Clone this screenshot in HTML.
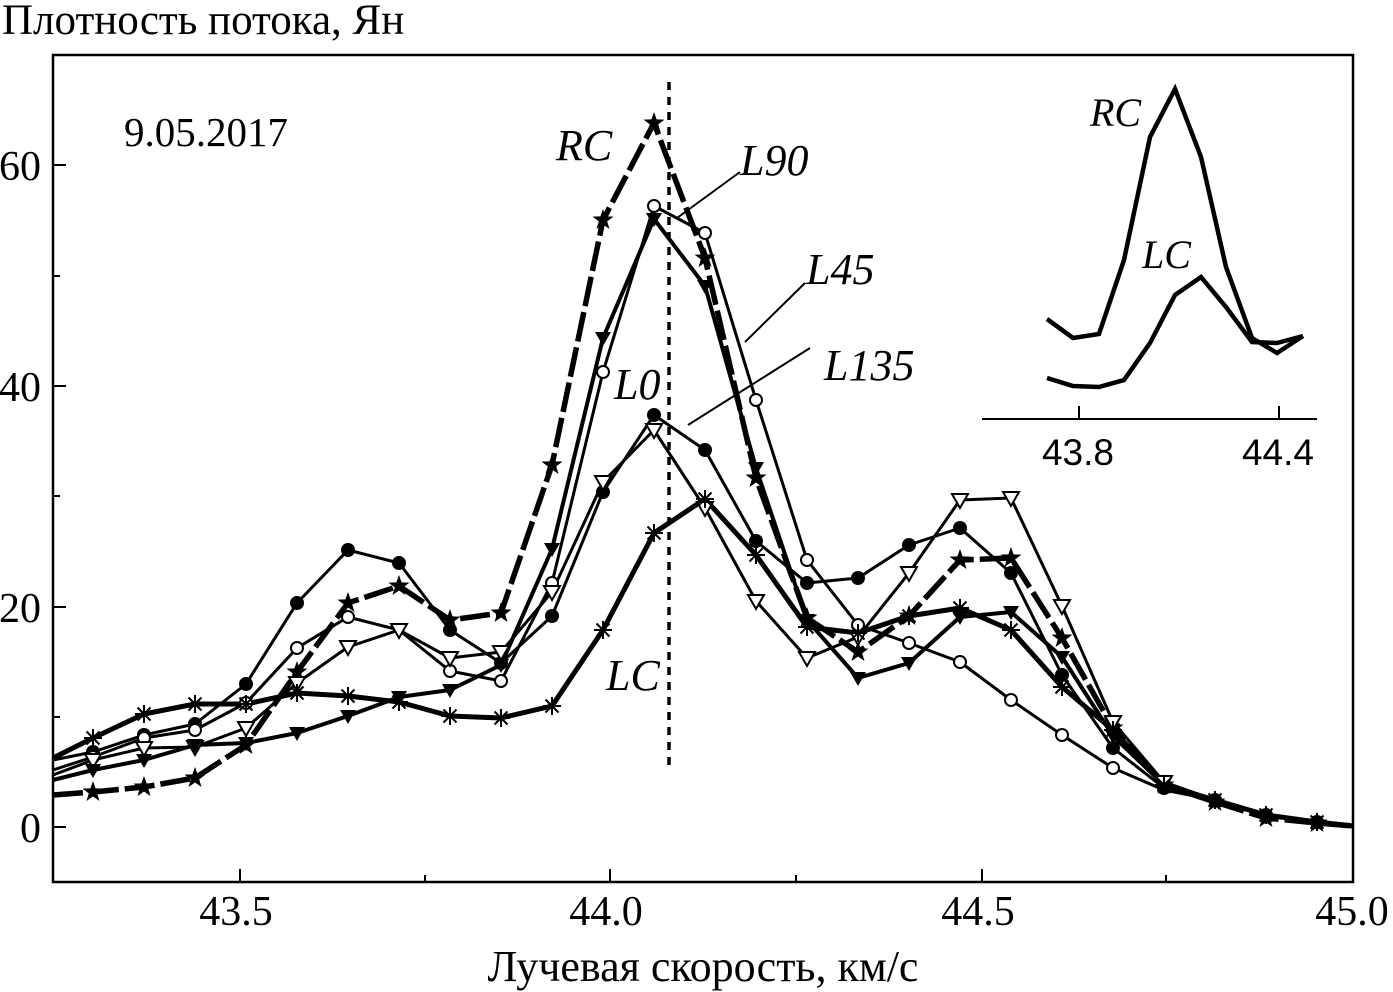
<!DOCTYPE html>
<html><head><meta charset="utf-8"><style>
html,body{margin:0;padding:0;background:#fff;}
svg{display:block;font-family:"Liberation Serif","DejaVu Serif",serif;}
</style></head><body>
<svg width="1393" height="992" viewBox="0 0 1393 992" xmlns="http://www.w3.org/2000/svg">
<defs>
<path id="star" d="M0,-11 L2.6,-3.6 L10.5,-3.4 L4.2,1.4 L6.5,9 L0,4.5 L-6.5,9 L-4.2,1.4 L-10.5,-3.4 L-2.6,-3.6Z" fill="#000"/>
<circle id="fc" r="7" fill="#000"/>
<circle id="oc" r="6" fill="#fff" stroke="#000" stroke-width="2"/>
<path id="ft" d="M-8,-6 L8,-6 L0,8Z" fill="#000"/>
<path id="ot" d="M-8,-6 L8,-6 L0,8Z" fill="#fff" stroke="#000" stroke-width="2"/>
<g id="ast" stroke="#000" stroke-width="2"><line x1="-9" y1="0" x2="9" y2="0"/><line x1="0" y1="-9" x2="0" y2="9"/><line x1="-6.5" y1="-6.5" x2="6.5" y2="6.5"/><line x1="-6.5" y1="6.5" x2="6.5" y2="-6.5"/></g>
</defs>
<text x="2" y="34" font-size="43">Плотность потока, Ян</text>
<text x="124" y="146" font-size="41">9.05.2017</text>
<!-- frame -->
<rect x="53" y="55" width="1300" height="827" fill="none" stroke="#000" stroke-width="2.5"/>
<g stroke="#000" stroke-width="2">
<line x1="53" y1="165" x2="66" y2="165"/><line x1="53" y1="386" x2="66" y2="386"/><line x1="53" y1="607" x2="66" y2="607"/><line x1="53" y1="827" x2="66" y2="827"/>
<line x1="53" y1="276" x2="60" y2="276"/><line x1="53" y1="496" x2="60" y2="496"/><line x1="53" y1="717" x2="60" y2="717"/>
<line x1="240" y1="882" x2="240" y2="869"/><line x1="610" y1="882" x2="610" y2="869"/><line x1="982" y1="882" x2="982" y2="869"/>
<line x1="425" y1="882" x2="425" y2="875"/><line x1="796" y1="882" x2="796" y2="875"/><line x1="1166" y1="882" x2="1166" y2="875"/>
</g>
<g font-size="42" text-anchor="end">
<text x="41" y="180">60</text><text x="41" y="401">40</text><text x="41" y="622">20</text><text x="41" y="842">0</text>
</g>
<g font-size="42" text-anchor="middle">
<text x="236" y="925">43.5</text><text x="606" y="925">44.0</text><text x="978" y="925">44.5</text><text x="1352" y="925">45.0</text>
<text x="703" y="981" font-size="44">Лучевая скорость, км/с</text>
</g>
<!-- dotted line -->
<line x1="669" y1="82" x2="669" y2="772" stroke="#000" stroke-width="3.5" stroke-dasharray="8,7"/>
<!-- series -->
<g fill="none" stroke="#000" stroke-linejoin="round">
<polyline stroke-width="5.5" stroke-dasharray="30,6" points="53,795 93,792 144,787 195,778 246,745 297,672 348,603 399,586 450,620 501,613 552,465 603,220 654,123 705,258 756,478 807,618 858,652 909,616 960,560 1011,558 1062,638 1113,728 1164,785 1215,802 1266,818 1317,823 1353,826"/>
<polyline stroke-width="3" points="53,760 93,752 144,735 195,724 246,684 297,603 348,550 399,563 450,630 501,663 552,616 603,492 654,415 705,450 756,541 807,583 858,578 909,545 960,528 1011,573 1062,675 1113,748 1164,788 1215,800 1266,815 1317,822 1353,826"/>
<polyline stroke-width="3" points="53,770 93,757 144,738 195,730 246,703 297,648 348,617 399,630 450,671 501,681 552,583 603,372 654,206 705,233 756,400 807,560 858,625 909,643 960,662 1011,700 1062,735 1113,768 1164,790 1215,800 1266,815 1317,822 1353,826"/>
<polyline stroke-width="3" points="53,775 93,760 144,748 195,747 246,728 297,683 348,647 399,630 450,658 501,652 552,592 603,482 654,430 705,508 756,601 807,658 858,637 909,573 960,500 1011,498 1062,606 1113,722 1164,782 1215,800 1266,815 1317,822 1353,826"/>
<polyline stroke-width="4" points="53,780 93,770 144,760 195,745 246,743 297,733 348,716 399,697 450,690 501,665 552,549 603,338 654,219 705,286 756,468 807,620 858,678 909,663 960,617 1011,612 1062,657 1113,736 1164,785 1215,800 1266,815 1317,822 1353,826"/>
<polyline stroke-width="5" points="53,758 93,738 144,714 195,704 246,704 297,693 348,696 399,702 450,716 501,718 552,706 603,630 654,533 705,499 756,555 807,627 858,633 909,616 960,608 1011,630 1062,687 1113,730 1164,785 1215,800 1266,815 1317,822 1353,826"/>
</g>
<!-- markers -->
<g>
<use href="#star" x="93" y="792"/><use href="#star" x="144" y="787"/><use href="#star" x="195" y="778"/><use href="#star" x="246" y="745"/><use href="#star" x="297" y="672"/><use href="#star" x="348" y="603"/><use href="#star" x="399" y="586"/><use href="#star" x="450" y="620"/><use href="#star" x="501" y="613"/><use href="#star" x="552" y="465"/><use href="#star" x="603" y="220"/><use href="#star" x="654" y="123"/><use href="#star" x="705" y="258"/><use href="#star" x="756" y="478"/><use href="#star" x="807" y="618"/><use href="#star" x="858" y="652"/><use href="#star" x="909" y="616"/><use href="#star" x="960" y="560"/><use href="#star" x="1011" y="558"/><use href="#star" x="1062" y="638"/><use href="#star" x="1113" y="728"/><use href="#star" x="1164" y="785"/><use href="#star" x="1215" y="802"/><use href="#star" x="1266" y="818"/><use href="#star" x="1317" y="823"/>
<use href="#fc" x="93" y="752"/><use href="#fc" x="144" y="735"/><use href="#fc" x="195" y="724"/><use href="#fc" x="246" y="684"/><use href="#fc" x="297" y="603"/><use href="#fc" x="348" y="550"/><use href="#fc" x="399" y="563"/><use href="#fc" x="450" y="630"/><use href="#fc" x="501" y="663"/><use href="#fc" x="552" y="616"/><use href="#fc" x="603" y="492"/><use href="#fc" x="654" y="415"/><use href="#fc" x="705" y="450"/><use href="#fc" x="756" y="541"/><use href="#fc" x="807" y="583"/><use href="#fc" x="858" y="578"/><use href="#fc" x="909" y="545"/><use href="#fc" x="960" y="528"/><use href="#fc" x="1011" y="573"/><use href="#fc" x="1062" y="675"/><use href="#fc" x="1113" y="748"/><use href="#fc" x="1164" y="788"/><use href="#fc" x="1215" y="800"/><use href="#fc" x="1266" y="815"/><use href="#fc" x="1317" y="822"/>
<use href="#oc" x="93" y="757"/><use href="#oc" x="144" y="738"/><use href="#oc" x="195" y="730"/><use href="#oc" x="246" y="703"/><use href="#oc" x="297" y="648"/><use href="#oc" x="348" y="617"/><use href="#oc" x="450" y="671"/><use href="#oc" x="501" y="681"/><use href="#oc" x="552" y="583"/><use href="#oc" x="603" y="372"/><use href="#oc" x="654" y="206"/><use href="#oc" x="705" y="233"/><use href="#oc" x="756" y="400"/><use href="#oc" x="807" y="560"/><use href="#oc" x="858" y="625"/><use href="#oc" x="909" y="643"/><use href="#oc" x="960" y="662"/><use href="#oc" x="1011" y="700"/><use href="#oc" x="1062" y="735"/><use href="#oc" x="1113" y="768"/>
<use href="#ot" x="93" y="760"/><use href="#ot" x="144" y="748"/><use href="#ot" x="195" y="747"/><use href="#ot" x="246" y="728"/><use href="#ot" x="297" y="683"/><use href="#ot" x="348" y="647"/><use href="#ot" x="399" y="630"/><use href="#ot" x="450" y="658"/><use href="#ot" x="501" y="652"/><use href="#ot" x="552" y="592"/><use href="#ot" x="603" y="482"/><use href="#ot" x="654" y="430"/><use href="#ot" x="705" y="508"/><use href="#ot" x="756" y="601"/><use href="#ot" x="807" y="658"/><use href="#ot" x="858" y="637"/><use href="#ot" x="909" y="573"/><use href="#ot" x="960" y="500"/><use href="#ot" x="1011" y="498"/><use href="#ot" x="1062" y="606"/><use href="#ot" x="1113" y="722"/><use href="#ot" x="1164" y="782"/>
<use href="#ft" x="93" y="770"/><use href="#ft" x="144" y="760"/><use href="#ft" x="195" y="745"/><use href="#ft" x="246" y="743"/><use href="#ft" x="297" y="733"/><use href="#ft" x="348" y="716"/><use href="#ft" x="399" y="697"/><use href="#ft" x="450" y="690"/><use href="#ft" x="501" y="665"/><use href="#ft" x="552" y="549"/><use href="#ft" x="603" y="338"/><use href="#ft" x="654" y="219"/><use href="#ft" x="705" y="286"/><use href="#ft" x="756" y="468"/><use href="#ft" x="807" y="620"/><use href="#ft" x="858" y="678"/><use href="#ft" x="909" y="663"/><use href="#ft" x="960" y="617"/><use href="#ft" x="1011" y="612"/><use href="#ft" x="1062" y="657"/><use href="#ft" x="1113" y="736"/>
<use href="#ast" x="93" y="738"/><use href="#ast" x="144" y="714"/><use href="#ast" x="195" y="704"/><use href="#ast" x="246" y="704"/><use href="#ast" x="297" y="693"/><use href="#ast" x="348" y="696"/><use href="#ast" x="399" y="702"/><use href="#ast" x="450" y="716"/><use href="#ast" x="501" y="718"/><use href="#ast" x="552" y="706"/><use href="#ast" x="603" y="630"/><use href="#ast" x="654" y="533"/><use href="#ast" x="705" y="499"/><use href="#ast" x="756" y="555"/><use href="#ast" x="807" y="627"/><use href="#ast" x="858" y="633"/><use href="#ast" x="909" y="616"/><use href="#ast" x="960" y="608"/><use href="#ast" x="1011" y="630"/><use href="#ast" x="1062" y="687"/><use href="#ast" x="1113" y="730"/><use href="#ast" x="1164" y="785"/><use href="#ast" x="1215" y="800"/><use href="#ast" x="1266" y="815"/><use href="#ast" x="1317" y="822"/>
</g>
<!-- labels & leaders -->
<g stroke="#000" stroke-width="2">
<line x1="740" y1="172" x2="677" y2="218"/>
<line x1="805" y1="283" x2="745" y2="342"/>
<line x1="810" y1="348" x2="688" y2="425"/>
</g>
<g font-size="44" font-style="italic">
<text x="556" y="160">RC</text>
<text x="740" y="175">L90</text>
<text x="806" y="284">L45</text>
<text x="824" y="380">L135</text>
<text x="614" y="399">L0</text>
<text x="606" y="690">LC</text>
</g>
<!-- inset -->
<line x1="982" y1="419" x2="1317" y2="419" stroke="#000" stroke-width="2"/>
<line x1="1079" y1="419" x2="1079" y2="406" stroke="#000" stroke-width="2"/>
<line x1="1279" y1="419" x2="1279" y2="406" stroke="#000" stroke-width="2"/>
<g font-size="37" text-anchor="middle" font-family="Liberation Sans, sans-serif">
<text x="1078" y="465">43.8</text><text x="1278" y="465">44.4</text>
</g>
<g fill="none" stroke="#000" stroke-width="4.5" stroke-linejoin="miter">
<polyline points="1047,319 1073,338 1099,334 1124,260 1150,137 1175,89 1201,157 1226,267 1252,338 1277,353 1303,336"/>
<polyline points="1047,378 1073,386 1099,387 1124,380 1150,343 1175,295 1201,277 1226,307 1252,342 1277,343 1303,336"/>
</g>
<g font-size="40" font-style="italic">
<text x="1090" y="126">RC</text>
<text x="1142" y="268">LC</text>
</g>
</svg>
</body></html>
